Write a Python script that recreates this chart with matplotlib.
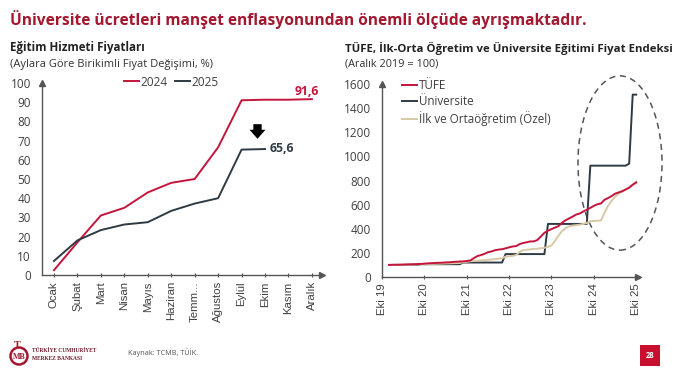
import matplotlib
matplotlib.use("Agg")
import matplotlib.pyplot as plt
from matplotlib.patches import Ellipse, Rectangle

plt.rcParams['font.family'] = ['Open Sans', 'DejaVu Sans']

# ---------------- data ----------------
months_tr = ["Ocak", "Şubat", "Mart", "Nisan", "Mayıs", "Haziran", "Temm...",
             "Ağustos", "Eylül", "Ekim", "Kasım", "Aralık"]
cum_2024 = [2.5, 17, 31, 35, 43, 48, 50, 66.5, 91, 91.3, 91.3, 91.6]
cum_2025 = [7.3, 18, 23.4, 26.3, 27.5, 33.4, 37.2, 40, 65.3, 65.6]

# right chart: month index counted from Oct 2019 (Dec 2019 = 2 ... Oct 2025 = 72)
idx_start = 2
tufe = [100,
        101.35, 101.70, 102.28, 103.15, 104.56, 105.74, 106.35, 107.27, 108.31, 110.62, 113.16, 114.58,
        116.51, 117.57, 118.84, 120.84, 121.91, 124.28, 126.52, 127.93, 129.53, 132.63, 137.28, 155.92,
        173.22, 181.55, 191.46, 205.35, 211.46, 221.93, 227.18, 230.50, 237.60, 246.01, 253.09, 256.08,
        273.11, 281.72, 288.16, 295.05, 295.17, 306.73, 335.85, 366.38, 383.78, 396.95, 409.97, 421.97,
        450.24, 470.64, 485.52, 500.96, 517.85, 526.36, 543.35, 556.78, 573.31, 589.82, 603.03, 609.24,
        639.88, 654.41, 670.49, 690.60, 701.17, 710.78, 725.42, 740.22, 764.13, 783.62]
universite = [100,
              100, 100, 100, 100, 100, 100, 100, 100, 106, 106, 106, 106,
              106, 106, 106, 106, 106, 106, 106, 106, 120, 120, 120, 120,
              120, 120, 120, 120, 120, 120, 120, 120, 190, 190, 190, 190,
              190, 190, 190, 190, 190, 190, 190, 190, 440, 440, 440, 440,
              440, 440, 440, 440, 440, 440, 440, 440, 923, 923, 923, 923,
              923, 923, 923, 923, 923, 923, 923, 940, 1512, 1512]
ilk_orta = [100,
            100, 100, 101, 101, 101, 102, 102, 103, 106, 107, 108, 108,
            109, 110, 111, 112, 113, 114, 115, 116, 122, 126, 130, 133,
            135, 138, 140, 142, 145, 148, 152, 156, 168, 172, 175, 183,
            208, 222, 226, 229, 232, 235, 238, 242, 250, 262, 300, 345,
            380, 405, 420, 426, 430, 434, 440, 448, 462, 465, 466, 468,
            530, 590, 630, 666, 690, 708, 724, 742, 768, 790]
x_ticks_right = [0, 12, 24, 36, 48, 60, 72]
x_ticklabels_right = ["Eki 19", "Eki 20", "Eki 21", "Eki 22", "Eki 23", "Eki 24", "Eki 25"]

RED = "#C4153C"
DARK = "#2E3B44"
BEIGE = "#D8C9A6"
AX = "#555555"
TXT = "#404040"
TITLE_RED = "#A3172F"

W, H = 677, 376
fig = plt.figure(figsize=(W / 100, H / 100), dpi=100)


def fx(px):
    return px / W


def fy(py):
    return 1 - py / H


# ---------------- titles ----------------
fig.text(fx(10), fy(20), "Üniversite ücretleri manşet enflasyonundan önemli ölçüde ayrışmaktadır.",
         fontsize=11.2, fontweight='bold', color=TITLE_RED, va='center', ha='left')
fig.text(fx(10), fy(48), "Eğitim Hizmeti Fiyatları", fontsize=8.3, fontweight='bold',
         color='#222222', va='center', ha='left')
fig.text(fx(10), fy(64), "(Aylara Göre Birikimli Fiyat Değişimi, %)", fontsize=8.0,
         color='#333333', va='center', ha='left')
fig.text(fx(345), fy(48), "TÜFE, İlk-Orta Öğretim ve Üniversite Eğitimi Fiyat Endeksi", fontsize=8.2,
         fontweight='bold', color='#222222', va='center', ha='left')
fig.text(fx(345), fy(64), "(Aralık 2019 = 100)", fontsize=7.8,
         color='#333333', va='center', ha='left')


def style_axes(ax):
    for s in ['top', 'right']:
        ax.spines[s].set_visible(False)
    for s in ['left', 'bottom']:
        ax.spines[s].set_color(AX)
        ax.spines[s].set_linewidth(1.0)
    ax.plot(1, 0, marker='>', transform=ax.transAxes, clip_on=False, color=AX, ms=4.5)
    ax.plot(0, 1, marker='^', transform=ax.transAxes, clip_on=False, color=AX, ms=4.5)
    ax.tick_params(axis='y', length=0, pad=8, labelsize=8.5, labelcolor=TXT)
    ax.tick_params(axis='x', length=3, direction='inout', color=AX, pad=3,
                   labelsize=8.2, labelcolor=TXT, labelrotation=90)
    for lab in ax.get_xticklabels():
        lab.set_fontfamily(['Liberation Sans', 'DejaVu Sans'])


# ---------------- left chart ----------------
ax1 = fig.add_axes([fx(42), fy(275), (322 - 42) / W, (275 - 83) / H])
x1 = list(range(len(months_tr)))
l24, = ax1.plot(x1[:len(cum_2024)], cum_2024, color=RED, lw=1.4, label="2024")
l25, = ax1.plot(x1[:len(cum_2025)], cum_2025, color=DARK, lw=1.4, label="2025")
ax1.set_xlim(-0.51, 11.43)
ax1.set_ylim(0, 100)
ax1.set_yticks(range(0, 101, 10))
ax1.set_xticks(x1)
ax1.set_xticklabels(months_tr)
style_axes(ax1)
ax1.text(11.3, cum_2024[-1] + 4.2, "91,6", color=RED, fontsize=8.8, fontweight='bold',
         ha='right', va='center')
ax1.text(9.2, cum_2025[-1] + 0.2, "65,6", color=DARK, fontsize=8.8, fontweight='bold',
         ha='left', va='center')
ax1.annotate('', xy=(8.68, 69.5), xytext=(8.68, 80),
             arrowprops=dict(arrowstyle='simple,head_width=1.15,head_length=0.65,tail_width=0.6',
                             color='black', lw=0), annotation_clip=False)
fig.legend(handles=[l24, l25], loc='center', bbox_to_anchor=(fx(171), fy(82)), ncol=2,
           frameon=False, fontsize=8.6, handlelength=1.25, handletextpad=0.15,
           columnspacing=0.6, borderpad=0, labelcolor=TXT)

# ---------------- right chart ----------------
ax2 = fig.add_axes([fx(382), fy(277), (638 - 382) / W, (277 - 84) / H])
x2 = [idx_start + i for i in range(len(tufe))]
lt, = ax2.plot(x2, tufe, color=RED, lw=1.4, label="TÜFE", zorder=3)
lu, = ax2.plot(x2, universite, color=DARK, lw=1.4, label="Üniversite", zorder=2)
li, = ax2.plot(x2, ilk_orta, color=BEIGE, lw=1.4, label="İlk ve Ortaöğretim (Özel)", zorder=2.5)
ax2.set_xlim(0, 72.5)
ax2.set_ylim(0, 1600)
ax2.set_yticks(range(0, 1601, 200))
ax2.set_xticks(x_ticks_right)
ax2.set_xticklabels(x_ticklabels_right)
style_axes(ax2)
ax2.add_patch(Ellipse((67.4, 945), 23.8, 1445, fill=False, ls=(0, (4, 3)), lw=1.1,
                      edgecolor='#555555', clip_on=False))
fig.legend(handles=[lt, lu, li], loc='upper left', bbox_to_anchor=(fx(402), fy(79)),
           frameon=False, fontsize=8.4, handlelength=1.3, handletextpad=0.15,
           labelspacing=0.27, borderpad=0, borderaxespad=0, labelcolor=TXT)

# ---------------- footer ----------------
fig.patches.append(Ellipse((fx(19), fy(356)), 17 / W, 17 / H, transform=fig.transFigure,
                           facecolor='white', edgecolor=TITLE_RED, lw=1.8))
fig.text(fx(19.5), fy(357), "MB", fontsize=5.8, fontweight='bold', color=TITLE_RED,
         ha='center', va='center', family=['Liberation Serif', 'DejaVu Serif'])
fig.text(fx(17), fy(345), "T", fontsize=7.5, fontweight='bold', color=TITLE_RED,
         ha='center', va='center', family=['Liberation Serif', 'DejaVu Serif'])
fig.text(fx(32), fy(350.5), "TÜRKİYE CUMHURİYET", fontsize=4.0, fontweight='bold',
         color='#6E1A28', ha='left', va='center', family=['Liberation Serif', 'DejaVu Serif'])
fig.text(fx(32), fy(358.5), "MERKEZ BANKASI", fontsize=4.0, fontweight='bold',
         color='#6E1A28', ha='left', va='center', family=['Liberation Serif', 'DejaVu Serif'])
fig.text(fx(128), fy(353), "Kaynak: TCMB, TÜİK.", fontsize=5.2, color='#555555',
         ha='left', va='center')
fig.patches.append(Rectangle((fx(640), fy(366)), 20 / W, 21 / H, transform=fig.transFigure,
                             facecolor='#C8102E', edgecolor='none'))
fig.text(fx(650), fy(355.5), "28", fontsize=5.5, fontweight='bold', color='white',
         ha='center', va='center')

fig.savefig("out.png", dpi=100)
